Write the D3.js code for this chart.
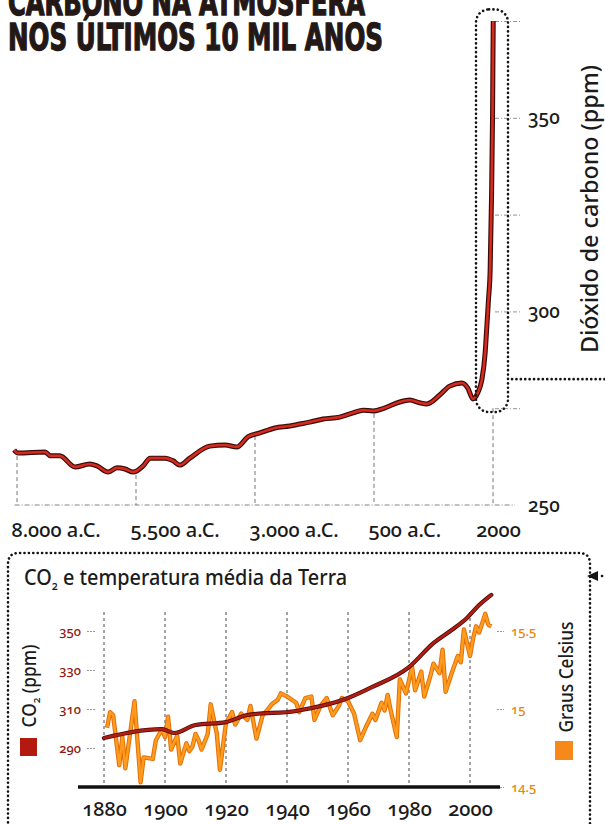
<!DOCTYPE html>
<html>
<head>
<meta charset="utf-8">
<script src="https://cdn.jsdelivr.net/npm/d3@7"></script>
<style>
body { margin: 0; background: #fff; }
svg { display: block; }
svg text { font-family: "Noto Sans", "Open Sans", sans-serif; font-weight: 500; font-variant-numeric: oldstyle-nums; fill: #1b1b1b; }
</style>
</head>
<body>
<div class="chart"></div>
<script>
// --- top chart: CO2 over the last 10,000 years
var topYears = [-8060, -7980, -7410, -7300, -7100, -6780, -6470, -6320, -6090, -5900, -5730, -5560, -5350, -5200, -4890, -4720, -4580, -4370, -3950, -3630, -3380, -3150, -2900, -2580, -2270, -2060, -1850, -1570, -1220, -940, -730, -520, -270, 40, 250, 460, 610, 880, 1090, 1350, 1470, 1580, 1685, 1765, 1835, 1870, 1905, 1940, 1968, 1990, 2000, 2005];
var topPpm = [264.2, 263.4, 263.7, 262.7, 262.7, 259.8, 260.6, 260.1, 258.5, 259.6, 259.3, 258.5, 260.1, 262.1, 262.1, 261.4, 260.3, 262.1, 265.2, 265.5, 265.0, 267.6, 268.6, 269.9, 270.4, 270.9, 271.4, 272.2, 272.7, 273.8, 274.5, 274.3, 275.1, 276.6, 277.1, 276.4, 276.1, 278.4, 280.7, 281.5, 280.2, 277.4, 279.1, 282.3, 289.3, 296, 303, 310.7, 328.8, 350, 367, 375];
var topTickYears = [-8000, -5500, -3000, -500, 2000];
var topTickLabels = ["8.000 a.C.", "5.500 a.C.", "3.000 a.C.", "500 a.C.", "2000"];
var topPpmTicks = [275, 300, 325, 350, 375];
var topPpmLabels = [250, 300, 350];

// --- bottom chart: CO2 and mean temperature since 1880
var co2Years = [1880, 1899, 1903, 1910, 1920, 1927, 1943, 1960, 1968, 1980, 1988, 1994, 1999, 2003, 2007];
var co2Ppm = [295.1, 299.7, 297.7, 301.8, 303.3, 306.9, 309, 315.6, 321.3, 331.5, 343.8, 350.5, 356.7, 363.3, 368.5];
var tempYears = [1881, 1882, 1883, 1885, 1886, 1887, 1890, 1892, 1893, 1896, 1897, 1899, 1900, 1901, 1902, 1904, 1905, 1907, 1908, 1909, 1910, 1911, 1912, 1914, 1915, 1917, 1918, 1919, 1920, 1922, 1923, 1925, 1927, 1928, 1930, 1932, 1933, 1935, 1937, 1938, 1940, 1943, 1944, 1946, 1948, 1949, 1951, 1953, 1955, 1957, 1958, 1960, 1962, 1964, 1966, 1967, 1968, 1969, 1971, 1972, 1973, 1974, 1976, 1977, 1979, 1981, 1982, 1984, 1985, 1987, 1988, 1990, 1991, 1992, 1994, 1996, 1997, 1998, 2000, 2001, 2002, 2003, 2005, 2006, 2007];
var tempC = [14.88, 14.98, 14.96, 14.64, 14.82, 14.62, 15.05, 14.53, 14.69, 14.68, 14.80, 14.87, 14.82, 14.95, 14.74, 14.83, 14.65, 14.78, 14.73, 14.76, 14.84, 14.80, 14.74, 14.84, 15.03, 14.84, 14.61, 14.76, 14.91, 14.98, 14.90, 14.97, 14.93, 15.02, 14.81, 14.96, 14.98, 15.03, 15.06, 15.10, 15.08, 15.04, 14.98, 15.07, 15.08, 14.93, 15.02, 15.07, 14.96, 15.02, 15.07, 15.05, 14.97, 14.80, 14.89, 14.93, 14.97, 14.93, 15.04, 14.99, 15.09, 14.99, 14.82, 15.19, 15.10, 15.27, 15.12, 15.24, 15.08, 15.21, 15.29, 15.23, 15.38, 15.11, 15.23, 15.34, 15.30, 15.51, 15.34, 15.45, 15.53, 15.49, 15.61, 15.54, 15.53];
var bottomTickYears = [1880, 1900, 1920, 1940, 1960, 1980, 2000];
var co2Ticks = [290, 310, 330, 350];
var tempTicks = [14.5, 15, 15.5];
var tempTickLabels = ["14.5", "15", "15.5"];

var width = 605, height = 824;

var svg = d3.select(".chart").append("svg")
  .attr("width", width)
  .attr("height", height);

function dotted(sel) {
  return sel.attr("fill", "none")
    .attr("stroke", "#141414")
    .attr("stroke-width", 2.6)
    .attr("stroke-linecap", "round")
    .attr("stroke-dasharray", "0.1 4.3");
}

// title
var titleFont = '"Liberation Sans Narrow", "DejaVu Sans Condensed", sans-serif';
[["CARBONO NA ATMOSFERA", 15, 357], ["NOS ÚLTIMOS 10 MIL ANOS", 50, 375]].forEach(function(t) {
  svg.append("text")
    .attr("x", 8)
    .attr("y", t[1])
    .attr("textLength", t[2])
    .attr("lengthAdjust", "spacingAndGlyphs")
    .style("font-family", titleFont)
    .style("font-weight", "bold")
    .style("font-size", "37px")
    .style("fill", "#231816")
    .style("stroke", "#231816")
    .style("stroke-width", 1.3)
    .text(t[0]);
});

// ---------------- top chart
var xTop = d3.scaleLinear().domain([-8000, 2000]).range([17, 493]);
var yTop = d3.scaleLinear().domain([250, 375]).range([505, 21]);

var topData = topYears.map(function(d, i) { return {year: d, ppm: topPpm[i]}; });

// dashed baseline
svg.append("line")
  .attr("x1", xTop(-8050)).attr("x2", 515)
  .attr("y1", yTop(250)).attr("y2", yTop(250))
  .attr("stroke", "#777").attr("stroke-width", 0.9)
  .attr("stroke-dasharray", "5 2 1 2");

// vertical guides from the line down to the baseline
svg.append("g").selectAll("line")
  .data(topTickYears)
  .enter().append("line")
  .attr("x1", function(d) { return xTop(d); })
  .attr("x2", function(d) { return xTop(d); })
  .attr("y1", function(d) {
    var p = d3.least(topData, function(a) { return Math.abs(a.year - d); });
    return Math.max(yTop(p.ppm) + 3, yTop(275));
  })
  .attr("y2", yTop(250))
  .attr("stroke", "#666").attr("stroke-width", 0.9)
  .attr("stroke-dasharray", "4 3");

// right axis
var topAxis = svg.append("g")
  .attr("transform", "translate(495,0)")
  .call(d3.axisRight(yTop)
    .tickValues(topPpmTicks.concat([250]))
    .tickSize(25)
    .tickPadding(8)
    .tickFormat(function(d) { return topPpmLabels.indexOf(d) >= 0 ? d : ""; }));
topAxis.select(".domain").remove();
topAxis.selectAll(".tick line")
  .attr("stroke", "#888").attr("stroke-width", 0.9).attr("stroke-dasharray", "4 2 1 2")
  .filter(function(d) { return d === 250; }).remove();
topAxis.selectAll(".tick text")
  .attr("font-size", 19)
  .attr("dy", "0.32em");

svg.append("text")
  .attr("transform", "translate(598," + 209 + ") rotate(-90)")
  .attr("text-anchor", "middle")
  .attr("textLength", 288)
  .attr("lengthAdjust", "spacingAndGlyphs")
  .style("font-size", "24px")
  .text("Dióxido de carbono (ppm)");

// bottom axis labels
var topX = svg.append("g")
  .attr("transform", "translate(0,537)")
  .call(d3.axisBottom(xTop)
    .tickValues(topTickYears)
    .tickSize(0)
    .tickFormat(function(d, i) { return topTickLabels[i]; }));
topX.select(".domain").remove();
topX.selectAll(".tick text")
  .attr("y", 0).attr("dy", null)
  .attr("font-size", 20)
  .attr("text-anchor", function(d, i) { return i < topTickYears.length - 1 ? "start" : "middle"; })
  .attr("dx", function(d, i) { return i < topTickYears.length - 1 ? -6 : 5; });

// the line
var topLine = d3.line()
  .x(function(d) { return xTop(d.year); })
  .y(function(d) { return yTop(d.ppm); })
  .curve(d3.curveMonotoneX);

svg.append("path").datum(topData)
  .attr("d", topLine).attr("fill", "none")
  .attr("stroke", "#3a0c09").attr("stroke-width", 5)
  .attr("stroke-linejoin", "round");
svg.append("path").datum(topData)
  .attr("d", topLine).attr("fill", "none")
  .attr("stroke", "#d62a1e").attr("stroke-width", 2.6)
  .attr("stroke-linejoin", "round");

// dotted box around the recent spike + connector to the lower chart
var boxL = xTop(2000) - 17, boxR = xTop(2000) + 15, boxT = yTop(378), boxB = yTop(274);
svg.append("rect")
  .attr("x", boxL).attr("y", boxT)
  .attr("width", boxR - boxL).attr("height", boxB - boxT)
  .attr("rx", 13).attr("ry", 13)
  .call(dotted);
svg.append("line")
  .attr("x1", boxR + 4).attr("x2", 612)
  .attr("y1", yTop(282.5)).attr("y2", yTop(282.5))
  .call(dotted);

// ---------------- bottom chart
svg.append("path")
  .attr("d", "M8,840 V564 Q8,553 19,553 H579 Q590,553 590,564 V840")
  .call(dotted);
svg.append("path")
  .attr("d", "M587,576 L598,571 L598,581 Z")
  .attr("fill", "#141414");
svg.append("line")
  .attr("x1", 602).attr("x2", 612)
  .attr("y1", 576).attr("y2", 576)
  .call(dotted);

var t2 = svg.append("text")
  .attr("x", 24).attr("y", 585)
  .style("font-size", "22px");
t2.append("tspan").text("CO");
t2.append("tspan").attr("dy", 5).style("font-size", "12px").text("2");
t2.append("tspan").attr("dy", -5).text(" e temperatura média da Terra");
t2.attr("textLength", 323).attr("lengthAdjust", "spacingAndGlyphs");

var xBot = d3.scaleLinear().domain([1880, 2000]).range([104, 470]);
var yCo2 = d3.scaleLinear().domain([270, 350]).range([787, 631]);
var yTemp = d3.scaleLinear().domain([14.5, 15.5]).range([787, 631]);

// vertical guides
svg.append("g").selectAll("line")
  .data(bottomTickYears)
  .enter().append("line")
  .attr("x1", function(d) { return xBot(d); })
  .attr("x2", function(d) { return xBot(d); })
  .attr("y1", 612).attr("y2", 785)
  .attr("stroke", "#333").attr("stroke-width", 0.9)
  .attr("stroke-dasharray", "3 3");

// left axis (CO2)
var leftAxis = svg.append("g")
  .attr("transform", "translate(95,0)")
  .call(d3.axisLeft(yCo2).tickValues(co2Ticks).tickSize(8).tickPadding(6));
leftAxis.select(".domain").remove();
leftAxis.selectAll(".tick line").attr("stroke", "#999").attr("stroke-dasharray", "2 1");
leftAxis.selectAll(".tick text").attr("font-size", 13).style("fill", "#8e1b12");

// right axis (temperature)
var rightAxis = svg.append("g")
  .attr("transform", "translate(497,0)")
  .call(d3.axisRight(yTemp).tickValues(tempTicks).tickSize(7).tickPadding(7)
    .tickFormat(function(d, i) { return tempTickLabels[i]; }));
rightAxis.select(".domain").remove();
rightAxis.selectAll(".tick line").attr("stroke", "#999").attr("stroke-dasharray", "2 1");
rightAxis.selectAll(".tick text").attr("font-size", 13).style("fill", "#e8870c");

// temperature line
var tempData = tempYears.map(function(d, i) { return {year: d, t: tempC[i]}; });
var tempLine = d3.line()
  .x(function(d) { return xBot(d.year); })
  .y(function(d) { return yTemp(d.t); });
svg.append("path").datum(tempData)
  .attr("d", tempLine).attr("fill", "none")
  .attr("stroke", "#e2700a").attr("stroke-width", 4.4).attr("stroke-linejoin", "round");
svg.append("path").datum(tempData)
  .attr("d", tempLine).attr("fill", "none")
  .attr("stroke", "#ff9c1e").attr("stroke-width", 2.4).attr("stroke-linejoin", "round");

// CO2 line
var co2Data = co2Years.map(function(d, i) { return {year: d, ppm: co2Ppm[i]}; });
var co2Line = d3.line()
  .x(function(d) { return xBot(d.year); })
  .y(function(d) { return yCo2(d.ppm); })
  .curve(d3.curveMonotoneX);
svg.append("path").datum(co2Data)
  .attr("d", co2Line).attr("fill", "none")
  .attr("stroke", "#4a0c08").attr("stroke-width", 4.2).attr("stroke-linecap", "round");
svg.append("path").datum(co2Data)
  .attr("d", co2Line).attr("fill", "none")
  .attr("stroke", "#b01d12").attr("stroke-width", 2.6).attr("stroke-linecap", "round");

// x axis
svg.append("line")
  .attr("x1", 78).attr("x2", 500)
  .attr("y1", 787).attr("y2", 787)
  .attr("stroke", "#111").attr("stroke-width", 3.4);
var botX = svg.append("g")
  .attr("transform", "translate(0,816)")
  .call(d3.axisBottom(xBot).tickValues(bottomTickYears).tickSize(0).tickFormat(d3.format("d")));
botX.select(".domain").remove();
botX.selectAll(".tick text").attr("y", 0).attr("dy", null).attr("font-size", 20);

// side labels + legend squares
var co2Label = svg.append("text")
  .attr("transform", "translate(36,686) rotate(-90)")
  .attr("text-anchor", "middle")
  .style("font-size", "19px");
co2Label.append("tspan").text("CO");
co2Label.append("tspan").attr("dy", 4).style("font-size", "11px").text("2");
co2Label.append("tspan").attr("dy", -4).text(" (ppm)");
co2Label.attr("textLength", 83).attr("lengthAdjust", "spacingAndGlyphs");

svg.append("rect")
  .attr("x", 20).attr("y", 738).attr("width", 17).attr("height", 18)
  .attr("fill", "#b3190f");

svg.append("text")
  .attr("transform", "translate(573,677) rotate(-90)")
  .attr("text-anchor", "middle")
  .attr("textLength", 111)
  .attr("lengthAdjust", "spacingAndGlyphs")
  .style("font-size", "19px")
  .text("Graus Celsius");

svg.append("rect")
  .attr("x", 555).attr("y", 741).attr("width", 18).attr("height", 19)
  .attr("fill", "#f7891a");
</script>
</body>
</html>
